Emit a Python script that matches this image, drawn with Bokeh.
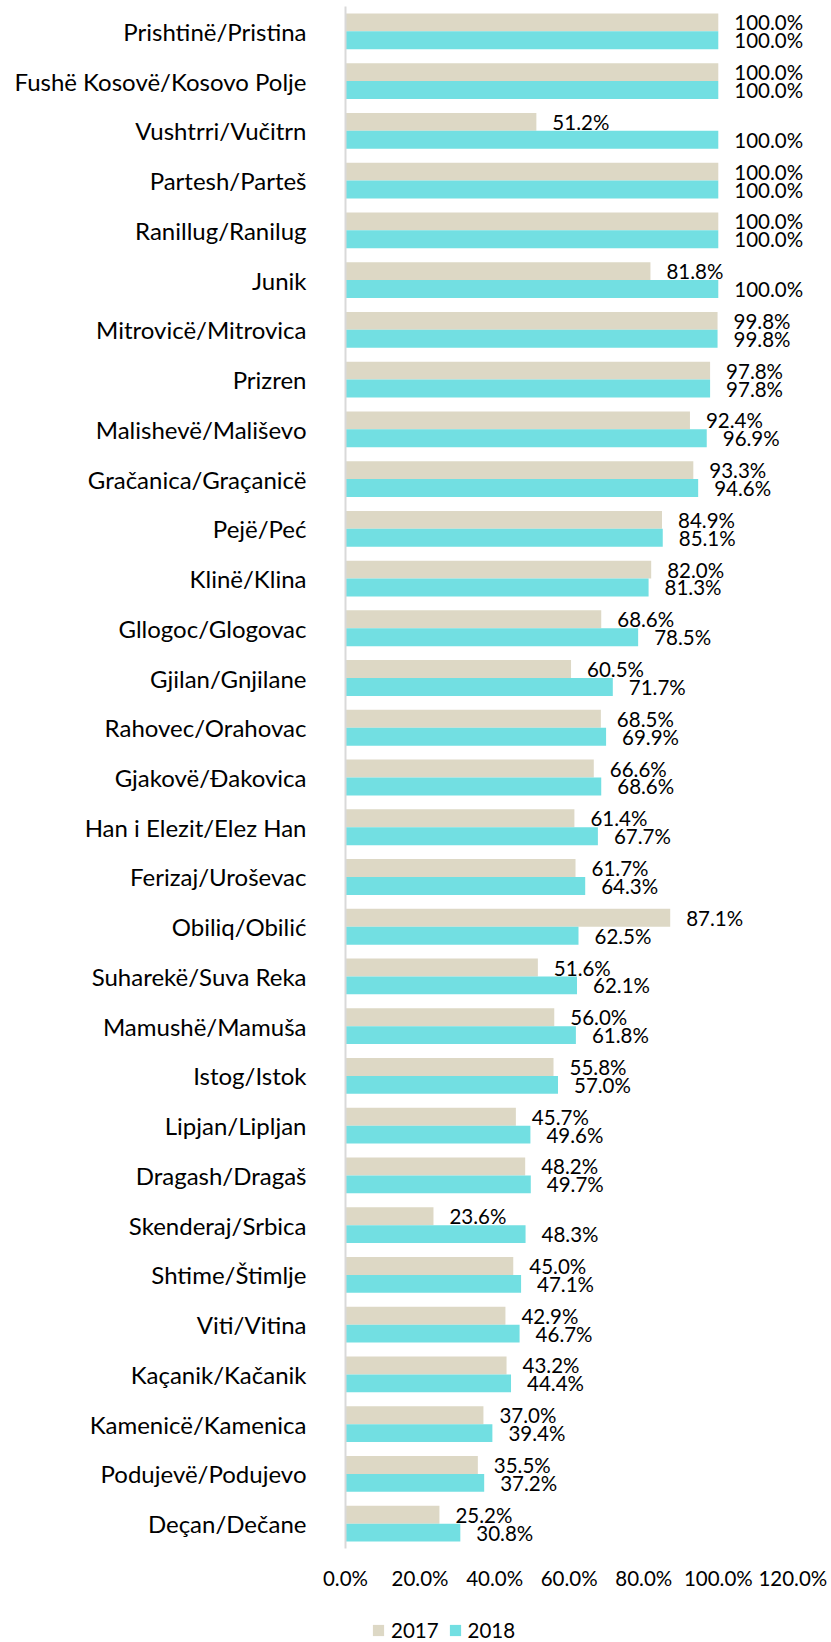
from bokeh.plotting import figure
from bokeh.layouts import column
from bokeh.models import (FactorRange, Range1d, ColumnDataSource, FixedTicker,
                          PrintfTickFormatter, Legend, LegendItem)
from bokeh.transform import dodge
from bokeh.core.properties import value
from bokeh.embed import file_html
from bokeh.resources import INLINE

categories = [
    "Prishtinë/Pristina", "Fushë Kosovë/Kosovo Polje", "Vushtrri/Vučitrn",
    "Partesh/Parteš", "Ranillug/Ranilug", "Junik", "Mitrovicë/Mitrovica",
    "Prizren", "Malishevë/Mališevo", "Gračanica/Graçanicë", "Pejë/Peć",
    "Klinë/Klina", "Gllogoc/Glogovac", "Gjilan/Gnjilane", "Rahovec/Orahovac",
    "Gjakovë/Đakovica", "Han i Elezit/Elez Han", "Ferizaj/Uroševac",
    "Obiliq/Obilić", "Suharekë/Suva Reka", "Mamushë/Mamuša", "Istog/Istok",
    "Lipjan/Lipljan", "Dragash/Dragaš", "Skenderaj/Srbica", "Shtime/Štimlje",
    "Viti/Vitina", "Kaçanik/Kačanik", "Kamenicë/Kamenica", "Podujevë/Podujevo",
    "Deçan/Dečane",
]
values_2017 = [100.0, 100.0, 51.2, 100.0, 100.0, 81.8, 99.8, 97.8, 92.4, 93.3,
               84.9, 82.0, 68.6, 60.5, 68.5, 66.6, 61.4, 61.7, 87.1, 51.6,
               56.0, 55.8, 45.7, 48.2, 23.6, 45.0, 42.9, 43.2, 37.0, 35.5, 25.2]
values_2018 = [100.0, 100.0, 100.0, 100.0, 100.0, 100.0, 99.8, 97.8, 96.9, 94.6,
               85.1, 81.3, 78.5, 71.7, 69.9, 68.6, 67.7, 64.3, 62.5, 62.1,
               61.8, 57.0, 49.6, 49.7, 48.3, 47.1, 46.7, 44.4, 39.4, 37.2, 30.8]
series_names = ["2017", "2018"]
x_ticks = [0, 20, 40, 60, 80, 100, 120]

COLOR_2017 = "#DDD8C5"
COLOR_2018 = "#72DFE2"
FONT = "Lato"
WIDTH = 831
LEFT = 345
RIGHT = 20

source = ColumnDataSource(dict(
    cat=categories,
    v2017=values_2017,
    v2018=values_2018,
    l2017=[f"{v:.1f}%" for v in values_2017],
    l2018=[f"{v:.1f}%" for v in values_2018],
))

p = figure(
    width=WIDTH, height=1592,
    y_range=FactorRange(factors=list(reversed(categories)), range_padding=0),
    x_range=Range1d(0, 125),
    output_backend="svg", toolbar_location=None,
    min_border_left=LEFT, min_border_right=RIGHT,
    min_border_top=6, min_border_bottom=42,
)
p.outline_line_color = None
p.xgrid.visible = False
p.ygrid.visible = False

r1 = p.hbar(y=dodge("cat", 0.18, range=p.y_range), left=0, right="v2017",
            height=0.36, source=source, fill_color=COLOR_2017, line_color=None)
r2 = p.hbar(y=dodge("cat", -0.18, range=p.y_range), left=0, right="v2018",
            height=0.36, source=source, fill_color=COLOR_2018, line_color=None)

p.text(x="v2017", y=dodge("cat", 0.18, range=p.y_range), text="l2017",
       source=source, x_offset=16, text_align="left", text_baseline="middle",
       text_font=value(FONT), text_font_size=value("20.5px"), text_color="#000000")
p.text(x="v2018", y=dodge("cat", -0.18, range=p.y_range), text="l2018",
       source=source, x_offset=16, text_align="left", text_baseline="middle",
       text_font=value(FONT), text_font_size=value("20.5px"), text_color="#000000")

# x axis
p.xaxis.ticker = FixedTicker(ticks=x_ticks)
p.xaxis.formatter = PrintfTickFormatter(format="%.1f%%")
p.xaxis.axis_line_color = None
p.xaxis.major_tick_line_color = None
p.xaxis.minor_tick_line_color = None
p.xaxis.major_tick_out = 0
p.xaxis.major_label_standoff = 17
p.xaxis.major_label_text_font = FONT
p.xaxis.major_label_text_font_size = "20.5px"
p.xaxis.major_label_text_color = "#000000"

# y axis
p.yaxis.axis_line_color = "#D9D9D9"
p.yaxis.axis_line_width = 2
p.yaxis.major_tick_line_color = None
p.yaxis.minor_tick_line_color = None
p.yaxis.major_tick_out = 0
p.yaxis.major_label_standoff = 39
p.yaxis.major_label_text_font = FONT
p.yaxis.major_label_text_font_size = "24px"
p.yaxis.major_label_text_color = "#000000"

# legend strip below the chart
lg = figure(
    width=WIDTH, height=50, x_range=Range1d(0, 1), y_range=Range1d(0, 1),
    output_backend="svg", toolbar_location=None,
    min_border_left=LEFT, min_border_right=RIGHT, min_border_top=0, min_border_bottom=0,
    x_axis_type=None, y_axis_type=None,
)
lg.outline_line_color = None
lg.xgrid.visible = False
lg.ygrid.visible = False
# swatch renderers for the legend only (placed outside the visible range)
d1 = lg.hbar(y=[-5], left=[0], right=[1], height=0.5, fill_color=COLOR_2017, line_color=None)
d2 = lg.hbar(y=[-5], left=[0], right=[1], height=0.5, fill_color=COLOR_2018, line_color=None)

legend = Legend(
    items=[LegendItem(label=series_names[0], renderers=[d1]),
           LegendItem(label=series_names[1], renderers=[d2])],
    orientation="horizontal", location=(26, 0),
    glyph_width=14, glyph_height=14, label_standoff=6, spacing=9,
    padding=0, margin=0, border_line_color=None, background_fill_alpha=0,
    label_text_font=FONT, label_text_font_size="20.5px", label_text_color="#000000",
)
lg.add_layout(legend, "center")

layout = column(p, lg, spacing=0)
open("out.html", "w").write(file_html(layout, INLINE))
